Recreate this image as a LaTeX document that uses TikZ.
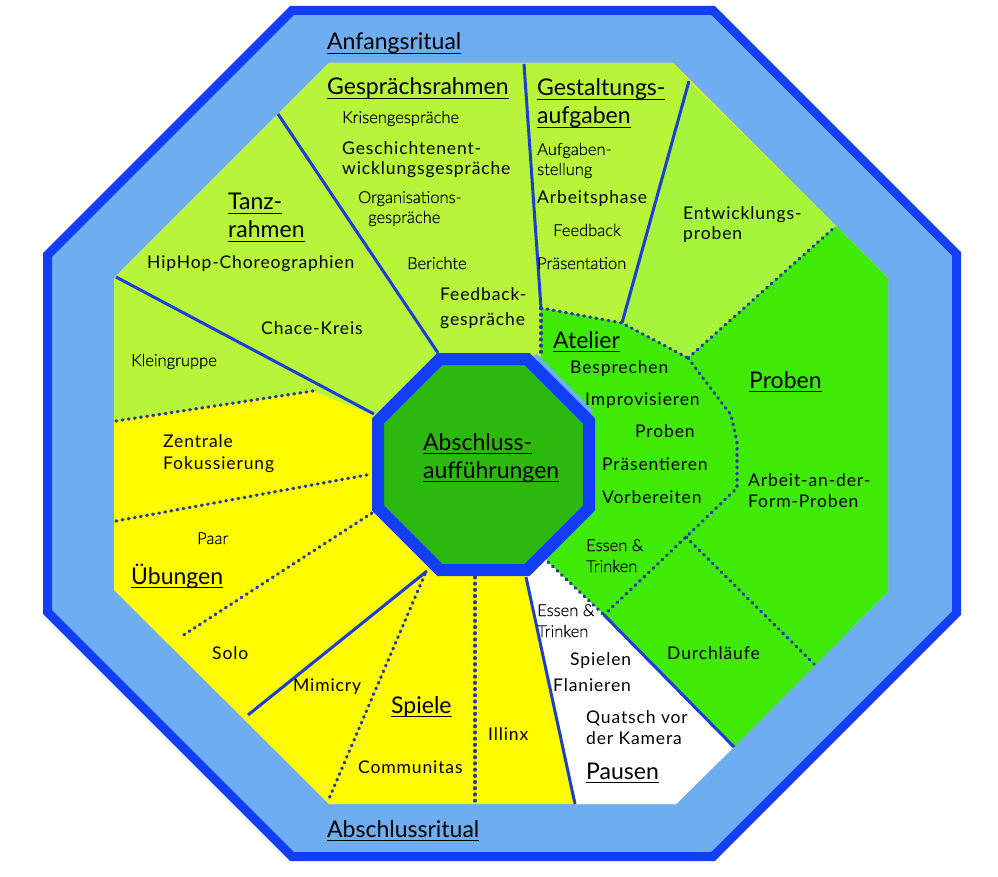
\documentclass[tikz,border=0pt]{standalone}
\usepackage{fontspec}
\setmainfont{Lato}
\newfontfamily\itemfont{Lato}[LetterSpace=5]
\newfontfamily\lightfont{Lato Light}[FakeBold=0.5]
\definecolor{bandblue}{RGB}{110,174,240}
\definecolor{borderblue}{RGB}{18,62,245}
\definecolor{lgreen}{RGB}{184,245,58}
\definecolor{egreen}{RGB}{166,245,60}
\definecolor{bgreen}{RGB}{62,234,6}
\definecolor{cgreen}{RGB}{44,184,12}
\definecolor{ayellow}{RGB}{255,252,0}
\definecolor{divblue}{RGB}{28,62,214}
\definecolor{dotblue}{RGB}{38,58,160}
\newcommand\hdl[1]{\setbox0\hbox{#1}\rlap{\vrule width\wd0 height -2.6pt depth 3.9pt}\box0}
\tikzset{
  hd/.style={font=\fontsize{23}{28}\selectfont, inner sep=0pt, anchor=base west, text=black},
  it/.style={font=\itemfont\fontsize{17.5}{20}\selectfont, inner sep=0pt, anchor=base west, text=black},
  lt/.style={font=\lightfont\fontsize{16.5}{20}\selectfont, inner sep=0pt, anchor=base west, text=black},
  solidline/.style={draw=divblue, line width=3pt},
  dotline/.style={draw=dotblue, line width=3.2pt, line cap=round, dash pattern=on 0.9pt off 5.3pt},
}
\begin{document}
\begin{tikzpicture}[x=1pt,y=-1pt]
\useasboundingbox (0,0) rectangle (998,877);
% outer octagon
\draw[fill=bandblue, draw=borderblue, line width=9pt]
  (291.9,10.5) -- (713.1,10.5) -- (956.5,253.9) -- (956.5,613.1) -- (713.1,856.5) -- (291.9,856.5) -- (47.5,612.1) -- (47.5,254.9) -- cycle;
% coordinates
\coordinate (I1) at (329,63);
\coordinate (I2) at (673,63);
\coordinate (I3) at (888,278);
\coordinate (I4) at (888,592);
\coordinate (I5) at (676,804);
\coordinate (I6) at (329,804);
\coordinate (I7) at (114,590);
\coordinate (I8) at (114,278);
\coordinate (c) at (483.5,464.5);
\coordinate (p1a) at (278,114);
\coordinate (p1b) at (438,353);
\coordinate (p2a) at (116,277);
\coordinate (p2b) at (374,414);
\coordinate (p3a) at (524,64);
\coordinate (p3b) at (541,308);
\coordinate (p4a) at (689,81);
\coordinate (p4b) at (622,323);
\coordinate (p5a) at (427,571);
\coordinate (p5b) at (248,715);
\coordinate (p6a) at (526,577);
\coordinate (p6b) at (575,804);
\coordinate (p7a) at (604,615);
\coordinate (p7b) at (734,747);
\coordinate (da1) at (116,421);
\coordinate (da2) at (313,391);
\coordinate (yg) at (373,415);
\coordinate (db1) at (116,521);
\coordinate (db2) at (372,474);
\coordinate (dc1) at (372,513);
\coordinate (dc2) at (182,636);
\coordinate (dd1) at (425,574);
\coordinate (dd2) at (328,801);
\coordinate (de1) at (475,577);
\coordinate (de2) at (475,801);
\coordinate (di1) at (548,562);
\coordinate (dv) at (541,356);
\coordinate (q1) at (688,358);
\coordinate (dg) at (836,226);
\coordinate (f21) at (712,390);
\coordinate (f22) at (731,415);
\coordinate (f23) at (737,442);
\coordinate (f24) at (737,488);
\coordinate (dh1) at (686,537);
\coordinate (dh2) at (815,665);
% regions
\fill[ayellow] (I1) -- (I2) -- (I3) -- (I4) -- (I5) -- (I6) -- (I7) -- (I8) -- cycle;
\fill[lgreen] (114,421) -- (I8) -- (I1) -- (I2) -- (p4a) -- (p4b) -- (p3b) -- (dv) -- (c) -- (yg) -- (da2) -- cycle;
\fill[egreen] (p4a) -- (dg) -- (q1) -- (p4b) -- cycle;
\fill[bgreen] (p3b) -- (p4b) -- (q1) -- (dg) -- (I3) -- (I4) -- (p7b) -- (p7a) -- (di1) -- (c) -- (dv) -- cycle;
\fill[white] (p6a) -- (p6b) -- (I5) -- (p7b) -- (p7a) -- (di1) -- (c) -- cycle;
\draw[bandblue, line width=4pt] (535,355) -- (592,412);
% dividers
\draw[solidline] (p1a) -- (p1b);
\draw[solidline] (p2a) -- (p2b);
\draw[solidline] (p3a) -- (p3b);
\draw[solidline] (p4a) -- (p4b);
\draw[solidline] (p5a) -- (p5b);
\draw[solidline] (p6a) -- (p6b);
\draw[solidline] (p7a) -- (p7b);
\draw[dotline] (da1) -- (da2);
\draw[dotline] (db1) -- (db2);
\draw[dotline] (dc1) -- (dc2);
\draw[dotline] (dd1) -- (dd2);
\draw[dotline] (de1) -- (de2);
\draw[dotline] (di1) -- (p7a);
\draw[dotline] (p3b) -- (dv);
\draw[dotline] (p3b) -- (p4b) -- (q1);
\draw[dotline] (q1) -- (dg);
\draw[dotline] (q1) -- (f21) -- (f22) -- (f23) -- (f24) -- (dh1) -- (p7a);
\draw[dotline] (dh1) -- (dh2);
% center octagon
\draw[fill=cgreen, draw=borderblue, line width=12pt]
  (439.8,359) -- (527.2,359) -- (589,420.8) -- (589,508.2) -- (527.2,570) -- (439.8,570) -- (378,508.2) -- (378,420.8) -- cycle;
% headings
\node[hd] (anf) at (327,50) {\hdl{Anfangsritual}};
\node[hd] (ges) at (327,95) {\hdl{Gesprächsrahmen}};
\node[hd] (gest1) at (537,96) {\hdl{Gestaltungs-}};
\node[hd] (gest2) at (537,124) {\hdl{aufgaben}};
\node[hd] (tanz1) at (228,210) {\hdl{Tanz-}};
\node[hd] (tanz2) at (228,238) {\hdl{rahmen}};
\node[hd] (atel) at (553,348) {\hdl{Atelier}};
\node[hd] (prob) at (749,388) {\hdl{Proben}};
\node[hd] (absa1) at (423,450) {\hdl{Abschluss-}};
\node[hd] (absa2) at (423,478) {\hdl{aufführungen}};
\node[hd] (ueb) at (131,584) {\hdl{Übungen}};
\node[hd] (spie) at (391,713) {\hdl{Spiele}};
\node[hd] (paus) at (586,779) {\hdl{Pausen}};
\node[hd] (absr) at (327,837) {\hdl{Abschlussritual}};
% regular items
\node[it] (gesch1) at (342,155) {Geschichtenent-};
\node[it] (gesch2) at (342,175) {wicklungsgespräche};
\node[it] (hiphop) at (147,269) {HipHop-Choreographien};
\node[it] (feed1) at (440,301) {Feedback-};
\node[it] (feed2) at (440,325) {gespräche};
\node[it] (chace) at (261,334) {Chace-Kreis};
\node[it] (arbph) at (537,204) {Arbeitsphase};
\node[it] (entw1) at (683,220) {Entwicklungs-};
\node[it] (entw2) at (683,240) {proben};
\node[it] (besp) at (570,373) {Besprechen};
\node[it] (impr) at (585,405) {Improvisieren};
\node[it] (probi) at (635,437) {Proben};
\node[it] (praes) at (602,470) {Präsentieren};
\node[it] (vorb) at (602,503) {Vorbereiten};
\node[it] (arb1) at (748,486) {Arbeit-an-der-};
\node[it] (arb2) at (748,507) {Form-Proben};
\node[it] (zent1) at (163,447) {Zentrale};
\node[it] (zent2) at (163,469) {Fokussierung};
\node[it] (solo) at (212,659) {Solo};
\node[it] (mimi) at (293,691) {Mimicry};
\node[it] (comm) at (358,773) {Communitas};
\node[it] (illi) at (488,740) {Illinx};
\node[it] (spiel) at (570,665) {Spielen};
\node[it] (flan) at (553,691) {Flanieren};
\node[it] (quat1) at (586,723) {Quatsch vor};
\node[it] (quat2) at (586,744) {der Kamera};
\node[it] (durch) at (667,659) {Durchläufe};
% light items
\node[lt] (kris) at (342,123) {Krisengespräche};
\node[lt] (org1) at (358,203) {Organisations-};
\node[lt] (org2) at (368,223) {gespräche};
\node[lt] (ber) at (407,269) {Berichte};
\node[lt] (klein) at (131,366) {Kleingruppe};
\node[lt] (aufg1) at (537,155) {Aufgaben-};
\node[lt] (aufg2) at (537,175) {stellung};
\node[lt] (feedb) at (553,236) {Feedback};
\node[lt] (praest) at (537,269) {Präsentation};
\node[lt] (ess1) at (586,551) {Essen \&};
\node[lt] (ess2) at (586,572) {Trinken};
\node[lt] (ess3) at (537,616) {Essen \&};
\node[lt] (ess4) at (537,637) {Trinken};
\node[lt] (paar) at (197,544) {Paar};
\end{tikzpicture}
\end{document}
